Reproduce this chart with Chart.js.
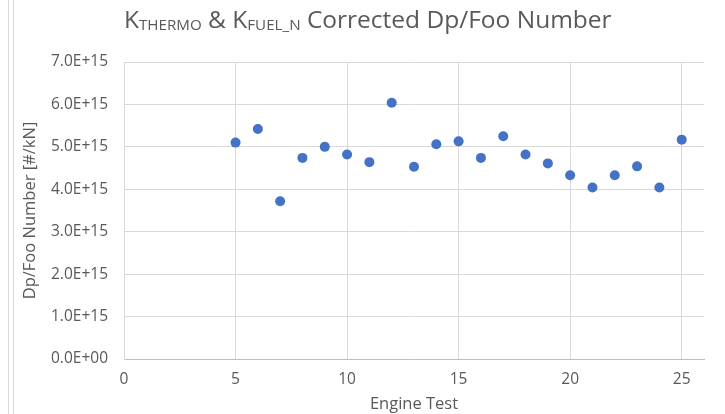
<!DOCTYPE html>
<html>
<head>
<meta charset="utf-8">
<script src="https://cdn.jsdelivr.net/npm/chart.js@4/dist/chart.umd.min.js"></script>
<style>
  html, body { margin: 0; padding: 0; background: #ffffff; }
  #wrap { position: relative; width: 725px; height: 414px; }
</style>
</head>
<body>
<div id="wrap"><canvas id="c" width="725" height="414"></canvas></div>
<script>
// ---- data ----
const engineTests = [5, 6, 7, 8, 9, 10, 11, 12, 13, 14, 15, 16, 17, 18, 19, 20, 21, 22, 23, 24, 25];
const dpFooNumber = [5.10e15, 5.42e15, 3.72e15, 4.74e15, 5.00e15, 4.82e15, 4.64e15, 6.04e15, 4.53e15, 5.06e15,
                     5.13e15, 4.74e15, 5.25e15, 4.82e15, 4.61e15, 4.33e15, 4.04e15, 4.33e15, 4.54e15, 4.04e15, 5.17e15];
const titleParts = [
  { text: 'K', sub: false },
  { text: 'THERMO', sub: true },
  { text: ' & K', sub: false },
  { text: 'FUEL_N', sub: true },
  { text: ' Corrected Dp/Foo Number', sub: false }
];
const xAxisTitle = 'Engine Test';
const yAxisTitle = 'Dp/Foo Number [#/kN]';

const FONT = '"Open Sans", "Liberation Sans", sans-serif';
const TEXT_COLOR = '#595959';
const GRID_COLOR = '#d9d9d9';

function fmtExp(v) {
  if (v === 0) return '0.0E+00';
  const e = Math.floor(Math.log10(Math.abs(v)) + 1e-9);
  const m = v / Math.pow(10, e);
  const es = (e < 0 ? '-' : '+') + String(Math.abs(e)).padStart(2, '0');
  return m.toFixed(1) + 'E' + es;
}

const titlePlugin = {
  id: 'subTitle',
  afterDraw(chart) {
    const ctx = chart.ctx;
    const mainSize = 21, subSize = 13;
    ctx.save();
    let total = 0;
    for (const p of titleParts) {
      ctx.font = (p.sub ? subSize : mainSize) + 'px ' + FONT;
      total += ctx.measureText(p.text).width;
    }
    const target = 488;
    const k = target / total;
    let x = 124;
    const baseY = 28;
    ctx.fillStyle = TEXT_COLOR;
    ctx.textBaseline = 'alphabetic';
    ctx.textAlign = 'left';
    for (const p of titleParts) {
      const size = (p.sub ? subSize : mainSize) * k;
      ctx.font = size + 'px ' + FONT;
      ctx.fillText(p.text, x, p.sub ? baseY + 2 : baseY);
      x += ctx.measureText(p.text).width;
    }
    // chart frame lines on the left
    ctx.strokeStyle = '#d9d9d9';
    ctx.lineWidth = 1;
    ctx.beginPath();
    ctx.moveTo(8.5, 0); ctx.lineTo(8.5, 414);
    ctx.moveTo(13.5, 0); ctx.lineTo(13.5, 414);
    ctx.stroke();
    ctx.restore();
  }
};

new Chart(document.getElementById('c'), {
  type: 'scatter',
  data: {
    datasets: [{
      label: 'Dp/Foo Number',
      data: engineTests.map((x, i) => ({ x: x, y: dpFooNumber[i] })),
      backgroundColor: '#4472C4',
      borderColor: '#4472C4',
      pointRadius: 5,
      pointHoverRadius: 5,
      borderWidth: 0
    }]
  },
  options: {
    responsive: false,
    animation: false,
    devicePixelRatio: 1,
    layout: { padding: { top: 62, right: 21, left: 0, bottom: 0 } },
    plugins: {
      legend: { display: false },
      title: { display: false },
      tooltip: { enabled: false }
    },
    scales: {
      x: {
        type: 'linear',
        min: 0, max: 26,
        afterFit(s) { s.height = 55; },
        afterBuildTicks(s) { s.ticks = [0, 5, 10, 15, 20, 25].map(v => ({ value: v })); },
        ticks: {
          color: TEXT_COLOR,
          font: { family: FONT, size: 15.5 },
          padding: 11,
          maxRotation: 0,
          callback: v => String(v)
        },
        grid: { color: GRID_COLOR, drawTicks: false, lineWidth: 1 },
        border: { color: '#bfbfbf', width: 1 },
        title: {
          display: true, text: xAxisTitle, color: TEXT_COLOR,
          font: { family: FONT, size: 16.5 }, padding: { top: 0, bottom: 0 }
        }
      },
      y: {
        type: 'linear',
        min: 0, max: 7e15,
        afterFit(s) { s.width = 124; },
        ticks: {
          stepSize: 1e15,
          color: TEXT_COLOR,
          font: { family: FONT, size: 15.5 },
          padding: 16,
          callback: v => fmtExp(v)
        },
        grid: { color: GRID_COLOR, drawTicks: false, lineWidth: 1 },
        border: { color: GRID_COLOR, width: 1 },
        title: {
          display: true, text: yAxisTitle, color: TEXT_COLOR,
          font: { family: FONT, size: 16.5 }, padding: { top: 20, bottom: 0 }
        }
      }
    }
  },
  plugins: [titlePlugin]
});
</script>
</body>
</html>
